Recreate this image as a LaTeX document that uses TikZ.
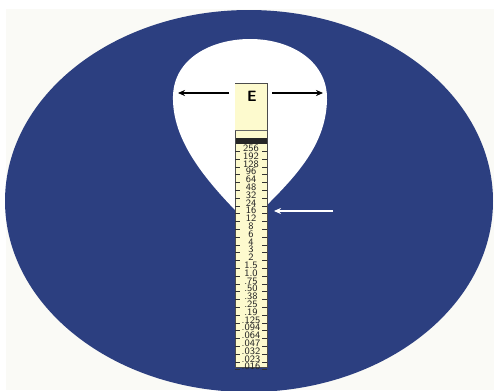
\documentclass[tikz,border=0pt]{standalone}
\usepackage{fontspec}
\definecolor{eyeblue}{RGB}{44,63,128}
\definecolor{stripyellow}{RGB}{253,250,206}
\definecolor{papergray}{RGB}{250,250,246}
\usetikzlibrary{arrows.meta,positioning}

\begin{document}
\begin{tikzpicture}[x=0.02cm,y=-0.02cm,
  strip/.style={draw=black!70,line width=0.4pt,fill=stripyellow,minimum width=0.64cm,inner sep=0pt},
  lbl/.style={font=\fontsize{5.6}{5.6}\sffamily,inner sep=0pt,text=black!85},
  tick/.style={black!80,line width=0.4pt},
  arr/.style={-{Stealth[length=4pt,width=3.5pt]},line width=1.2pt}]
  \useasboundingbox (0,0) rectangle (494,390);
  \fill[white] (0,0) rectangle (494,390);
  \fill[papergray] (6,9) rectangle (494,390);
  % Blue field
  \begin{scope}
    \clip (0,0) rectangle (494,390);
    \fill[eyeblue] (249,201) ellipse [x radius=244,y radius=191];
  \end{scope}
  % White drop
  \fill[white] (236,211) .. controls (196,170) and (172,134) .. (173,96)
    .. controls (174,58) and (212,39) .. (250,39)
    .. controls (292,39) and (328,62) .. (327,100)
    .. controls (326,142) and (300,172) .. (268,204) -- cycle;
  % Scale strip
  \node[strip,minimum height=5.68cm,anchor=north] (strip) at (251,83) {};
  \node[strip,minimum height=0.94cm,anchor=north,draw=none] (ebox) at (251,83.5) {};
  \draw[black!60,line width=0.4pt] (235,130) -- (267,130);
  \fill[black!85] (235.5,138) rectangle (266.5,144);
  \node[font=\sffamily\bfseries\fontsize{8.5}{8.5}\selectfont,inner sep=0pt] (e) at (252,96) {E};
  % Values
  \foreach \v [count=\i] in {256,192,128,96,64,48,32,24,16,12,8,6,4,3,2,1.5,1.0,.75,.50,.38,.25,.19,.125,.094,.064,.047,.032,.023,.016}{
    \node[lbl] (v\i) at (251,140.5+7.8*\i) {\v};
    \draw[tick] (235,143.5+7.8*\i) -- (240,143.5+7.8*\i);
    \draw[tick] (262,143.5+7.8*\i) -- (267,143.5+7.8*\i);
  }
  % Arrows
  \coordinate (lstart) at (229,93);
  \coordinate (lend) at (178,93);
  \coordinate (rstart) at (272,93);
  \coordinate (rend) at (323,93);
  \coordinate (wstart) at (333,211);
  \coordinate (wend) at (274,211);
  \draw[arr] (lstart) -- (lend);
  \draw[arr] (rstart) -- (rend);
  \draw[arr,white,line width=1pt] (wstart) -- (wend);
\end{tikzpicture}
\end{document}
